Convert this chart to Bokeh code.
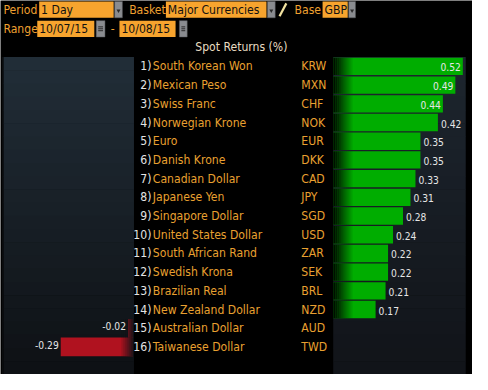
from bokeh.plotting import figure
from bokeh.models import Range1d, ColumnDataSource
from bokeh.core.properties import value
from bokeh.embed import file_html
from bokeh.resources import INLINE

# ---------------- data ----------------
ranks = list(range(1, 17))
names = ["South Korean Won", "Mexican Peso", "Swiss Franc", "Norwegian Krone", "Euro",
         "Danish Krone", "Canadian Dollar", "Japanese Yen", "Singapore Dollar",
         "United States Dollar", "South African Rand", "Swedish Krona", "Brazilian Real",
         "New Zealand Dollar", "Australian Dollar", "Taiwanese Dollar"]
codes = ["KRW", "MXN", "CHF", "NOK", "EUR", "DKK", "CAD", "JPY", "SGD", "USD",
         "ZAR", "SEK", "BRL", "NZD", "AUD", "TWD"]
returns = [0.52, 0.49, 0.44, 0.42, 0.35, 0.35, 0.33, 0.31, 0.28, 0.24,
           0.22, 0.22, 0.21, 0.17, -0.02, -0.29]
title = "Spot Returns (%)"
period = "1 Day"
basket = "Major Currencies"
base = "GBP"
range_from = "10/07/15"
range_to = "10/08/15"

# ---------------- layout constants ----------------
W, H = 472, 374
REF_W, REF_H = 488, 390
FS = W / REF_W
FONT = "DejaVu Sans Condensed, Liberation Sans Narrow, Roboto, sans-serif"
S = 257.7          # px per unit of return
RH = 19.5          # row height px
TOP = 59

def fs(px):
    return "%.1fpx" % (px * FS)

p = figure(width=W, height=H, x_range=Range1d(0, REF_W), y_range=Range1d(REF_H, 0),
           output_backend="svg", toolbar_location=None, min_border=0,
           x_axis_location=None, y_axis_location=None,
           background_fill_color="black", border_fill_color="black",
           outline_line_color=None)
p.grid.visible = False
p.extra_x_ranges = {"pos": Range1d(-344 / S, (REF_W - 344) / S),
                    "neg": Range1d(-137 / S, (REF_W - 137) / S)}
p.extra_y_ranges = {"row": Range1d(0.5 + (REF_H - TOP) / RH, 0.5 - TOP / RH)}

# ---------------- panel backgrounds (vertical gradient bands) ----------------
def grad(x0, x1, c0, c1, n=24):
    y0, y1 = TOP, REF_H
    tops, bots, cols = [], [], []
    for i in range(n):
        t = i / (n - 1)
        c = tuple(int(round(c0[k] + (c1[k] - c0[k]) * t)) for k in range(3))
        tops.append(y0 + (y1 - y0) * i / n)
        bots.append(y0 + (y1 - y0) * (i + 1) / n + 0.5)
        cols.append("#%02x%02x%02x" % c)
    p.quad(left=x0, right=x1, top=tops, bottom=bots, fill_color=cols, line_color=None)

grad(3, 138, (33, 45, 55), (14, 17, 21))
grad(344, 481, (29, 37, 46), (17, 20, 25))
p.quad(left=1.5, right=3, top=TOP, bottom=REF_H, fill_color="#0a0c0e", line_color=None)

# ---------------- bars ----------------
pos = [(r, v) for r, v in zip(ranks, returns) if v >= 0]
neg = [(r, v) for r, v in zip(ranks, returns) if v < 0]
pos_src = ColumnDataSource(dict(rank=[a for a, b in pos], val=[b for a, b in pos],
                                lab=["%.2f" % b for a, b in pos]))
neg_src = ColumnDataSource(dict(rank=[a for a, b in neg], val=[b for a, b in neg],
                                lab=["%.2f" % b for a, b in neg]))

p.hbar(y="rank", left=0, right="val", height=0.93, source=pos_src,
       x_range_name="pos", y_range_name="row", fill_color="#00ad00", line_color=None)
p.hbar(y="rank", left="val", right=0, height=1.0, source=neg_src,
       x_range_name="neg", y_range_name="row", fill_color="#b0121f", line_color=None)

# fade of green bars from black at their base
step = 2.0 / S
for k in range(10):
    p.hbar(y="rank", left=k * step, right=(k + 1) * step, height=0.93, source=pos_src,
           x_range_name="pos", y_range_name="row", fill_color="black",
           fill_alpha=0.92 * (1 - k / 10), line_color=None)
# fade of red bars near zero
for k in range(6):
    p.hbar(y="rank", left=-(k + 1) * step, right=-k * step, height=1.0, source=neg_src,
           x_range_name="neg", y_range_name="row", fill_color="#101418",
           fill_alpha=0.85 * (1 - k / 6), line_color=None)

# ---------------- value labels ----------------
inside = ColumnDataSource(dict(rank=[a for a, b in pos if b >= 0.44],
                               val=[b for a, b in pos if b >= 0.44],
                               lab=["%.2f" % b for a, b in pos if b >= 0.44]))
outside = ColumnDataSource(dict(rank=[a for a, b in pos if b < 0.44],
                                val=[b for a, b in pos if b < 0.44],
                                lab=["%.2f" % b for a, b in pos if b < 0.44]))
common = dict(text="lab", y="rank", y_range_name="row", text_baseline="middle",
              text_font=value(FONT), text_font_size=fs(10.5), text_color="#e6e6e6")
p.text(x="val", source=inside, x_range_name="pos", text_align="right", x_offset=-2, y_offset=1, **common)
p.text(x="val", source=outside, x_range_name="pos", text_align="left", x_offset=3, y_offset=1, **common)
p.text(x="val", source=neg_src, x_range_name="neg", text_align="right", x_offset=-2, y_offset=-2, **common)

# ---------------- row texts ----------------
TS = 12.5
rows_src = ColumnDataSource(dict(rank=ranks, rk=["%d)" % r for r in ranks], name=names, code=codes))
p.text(x=156, y="rank", text="rk", source=rows_src, y_range_name="row", text_align="right",
       text_baseline="middle", text_font=value(FONT), text_font_size=fs(TS), text_color="#e4e4e4")
p.text(x=157.5, y="rank", text="name", source=rows_src, y_range_name="row", text_align="left",
       text_baseline="middle", text_font=value(FONT), text_font_size=fs(TS), text_color="#e9a030")
p.text(x=311, y="rank", text="code", source=rows_src, y_range_name="row", text_align="left",
       text_baseline="middle", text_font=value(FONT), text_font_size=fs(TS), text_color="#e9a030")

p.text(x=[249], y=[48], text=[title], text_align="center", text_baseline="middle",
       text_font=value(FONT), text_font_size=fs(TS), text_color="#e8dcc2")

# ---------------- header controls ----------------
ORANGE = "#f7a42e"
hdr_lbl = dict(text_baseline="middle", text_align="left", text_font=value(FONT),
               text_font_size=fs(TS), text_color="#f0a030")
p.text(x=[3, 133, 304, 3], y=[9.5, 9.5, 9.5, 29.5], text=["Period", "Basket", "Base", "Range"], **hdr_lbl)
p.text(x=[114], y=[29.5], text=["-"], **hdr_lbl)

boxes = dict(l=[40, 171, 333, 38, 123], r=[117, 275, 359, 97, 181],
             t=[1, 1, 1, 21, 21], b=[18, 18, 18, 38, 38],
             txt=[period, basket, base, range_from, range_to])
p.quad(left=boxes["l"], right=boxes["r"], top=boxes["t"], bottom=boxes["b"],
       fill_color=ORANGE, line_color=None)
p.text(x=[l + 2 for l in boxes["l"]], y=[(t + b) / 2 + 0.5 for t, b in zip(boxes["t"], boxes["b"])],
       text=boxes["txt"], text_baseline="middle", text_align="left", text_font=value(FONT),
       text_font_size=fs(TS), text_color="#111111")

# buttons
bl = [118, 276, 360, 99, 185]
br = [126, 284, 367, 108, 193]
bt = [1, 1, 1, 21, 21]
bb = [18, 18, 18, 38, 38]
p.quad(left=bl, right=br, top=bt, bottom=bb, fill_color="#8a8c90", line_color="#5a5c60", line_width=0.5)
p.scatter(x=[(l + r) / 2 for l, r in zip(bl[:3], br[:3])], y=[10.5] * 3, marker="inverted_triangle",
          size=4, fill_color="#2a2a2a", line_color=None)
for yy in (27.5, 29.5, 31.5):
    p.segment(x0=[bl[3] + 2, bl[4] + 2], x1=[br[3] - 2, br[4] - 2], y0=[yy, yy], y1=[yy, yy],
              line_color="#2a2a2a", line_width=1)
# pencil icon
p.segment(x0=[288.5], y0=[16.5], x1=[295.5], y1=[3], line_color="#f2e2a0", line_width=2.2)

open("out.html", "w").write(file_html(p, INLINE))
